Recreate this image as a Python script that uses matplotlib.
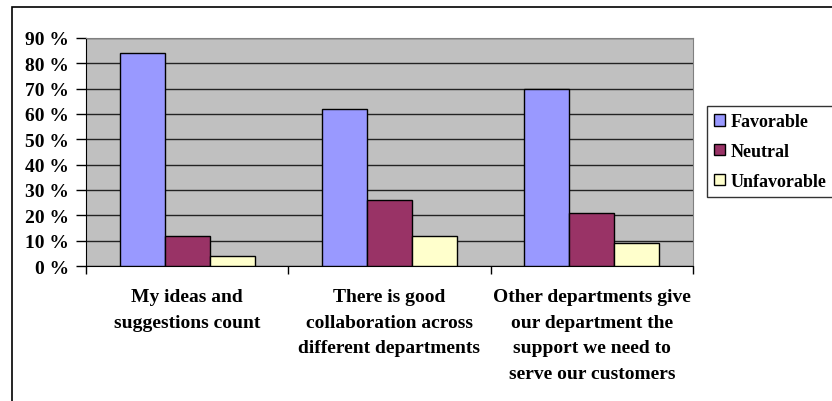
import matplotlib.pyplot as plt
import numpy as np
from matplotlib.patches import Rectangle

categories = [
    "My ideas and\nsuggestions count",
    "There is good\ncollaboration across\ndifferent departments",
    "Other departments give\nour department the\nsupport we need to\nserve our customers",
]
series_names = ["Favorable", "Neutral", "Unfavorable"]
favorable = [84, 62, 70]
neutral = [12, 26, 21]
unfavorable = [4, 12, 9]
yticks = [0, 10, 20, 30, 40, 50, 60, 70, 80, 90]

colors = ["#9999FF", "#993366", "#FFFFCC"]

plt.rcParams["font.family"] = ["Liberation Serif", "DejaVu Serif"]
plt.rcParams["font.weight"] = "bold"

W, H = 832, 402
fig = plt.figure(figsize=(W / 100, H / 100), dpi=100)
ax = fig.add_axes([86 / W, 1 - 267 / H, (693 - 86) / W, (267 - 39) / H])
ax.set_facecolor("#C0C0C0")

# outer chart border (right and bottom edges fall outside the picture)
fig.patches.append(Rectangle((12 / W, -0.05), 1.1, 1.05 - 8 / H, transform=fig.transFigure,
                             fill=False, edgecolor="black", linewidth=1.2))

x = np.arange(len(categories))
w = 1 / 4.5
for i, (vals, name) in enumerate(zip([favorable, neutral, unfavorable], series_names)):
    ax.bar(x + (i - 1) * w, vals, width=w, color=colors[i], edgecolor="black",
           linewidth=1, label=name, zorder=3)

ax.set_xlim(-0.5, len(categories) - 0.5)
ax.set_ylim(0, 90)
ax.set_yticks(yticks)
ax.set_yticklabels([f"{t} %" for t in yticks], fontsize=14, fontweight="bold")
ax.yaxis.grid(True, color="#222222", linewidth=1, zorder=0)
ax.set_axisbelow(True)

# category separators as ticks, labels in the middle
ax.set_xticks(np.arange(len(categories) + 1) - 0.5)
ax.set_xticklabels([])
ax.tick_params(axis="x", length=6, width=1, direction="out")
ax.tick_params(axis="y", length=7, width=1, direction="out", pad=5)
for xi, lab in zip(x, categories):
    ax.text(xi, -0.095, lab, transform=ax.get_xaxis_transform(), ha="center", va="top",
            fontsize=14, fontweight="bold", linespacing=1.68)

for side in ["top", "right"]:
    ax.spines[side].set_color("#808080")

leg = fig.legend(loc="upper left", bbox_to_anchor=(707 / W, 1 - 107 / H), frameon=True,
                 fancybox=False, edgecolor="black", fontsize=13, handlelength=0.6,
                 handleheight=0.6, handletextpad=0.3, borderpad=0.4, labelspacing=0.71,
                 borderaxespad=0)
leg.get_frame().set_linewidth(1)
for t in leg.get_texts():
    t.set_fontweight("bold")

fig.savefig("out.png", dpi=100)
